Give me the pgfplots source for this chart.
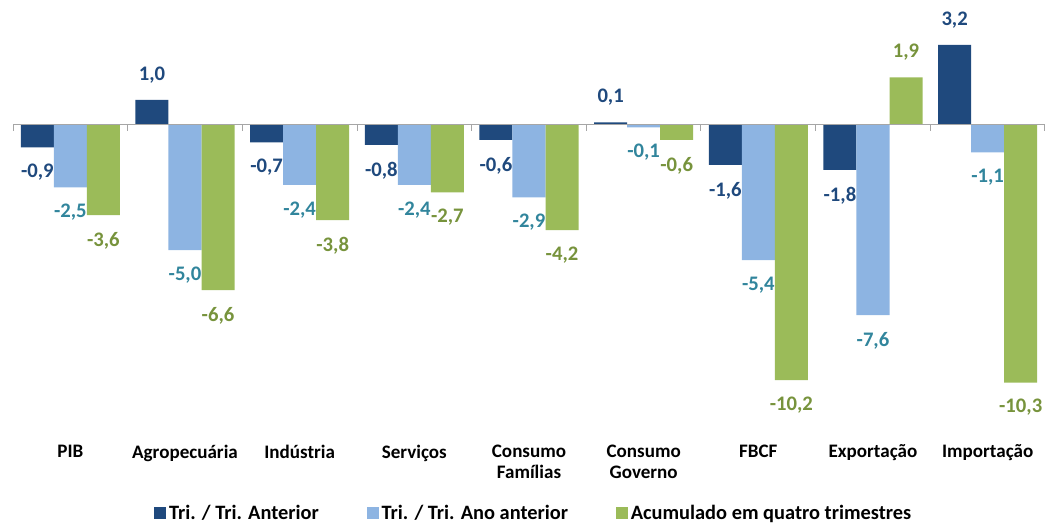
\documentclass[border=0pt]{standalone}
\usepackage{fontspec}
\setmainfont{Carlito}
\usepackage{pgfplots}
\pgfplotsset{compat=1.18}
\definecolor{cA}{HTML}{1F497D}
\definecolor{cB}{HTML}{8DB4E2}
\definecolor{cC}{HTML}{9BBB59}
\definecolor{lA}{HTML}{1F497D}
\definecolor{lB}{HTML}{31859C}
\definecolor{lC}{HTML}{77933C}
\begin{document}
\begin{tikzpicture}
\path[use as bounding box] (0,0) rectangle (783.75pt,393.75pt);
\begin{axis}[
  at={(9.75pt,63.75pt)}, anchor=south west,
  scale only axis, width=774pt, height=322.5pt,
  xmin=-0.5, xmax=8.5, ymin=-12.6, ymax=4.6,
  ybar=0pt, bar width=0.288,
  axis x line*=bottom, axis y line=none,
  x axis line style={draw=none},
  major tick length=0pt,
  ytick=\empty,
  xtick={0,1,2,3,4,5,6,7,8},
  xticklabels={PIB, Agropecuária, Indústria, Serviços, {Consumo\\Famílias}, {Consumo\\Governo}, FBCF, Exportação, Importação},
  xticklabel style={align=center, anchor=north, font=\bfseries\fontsize{14.3}{16.2}\selectfont, text=black},
  nodes near coords,
  nodes near coords style={font=\bfseries\fontsize{15.5}{17}\selectfont, inner ysep=12.5pt,
    /pgf/number format/use comma, /pgf/number format/fixed, /pgf/number format/fixed zerofill,
    /pgf/number format/precision=1, /pgf/number format/assume math mode=true},
  legend style={draw=none, at={(0.505,-0.170)}, anchor=center, legend columns=3,
    font=\bfseries\fontsize{15.3}{17}\selectfont, nodes={inner xsep=2pt},
    /tikz/every even column/.append style={column sep=34pt}},
  legend image code/.code={\fill[#1] (0pt,-4.5pt) rectangle (9pt,4.5pt);},
  clip=false,
]
\addplot[fill=cA, draw=none, every node near coord/.append style={text=lA}] coordinates
 {(0,-0.9) (1,1.0) (2,-0.7) (3,-0.8) (4,-0.6) (5,0.1) (6,-1.6) (7,-1.8) (8,3.2)};
\addplot[fill=cB, draw=none, every node near coord/.append style={text=lB}] coordinates
 {(0,-2.5) (1,-5.0) (2,-2.4) (3,-2.4) (4,-2.9) (5,-0.1) (6,-5.4) (7,-7.6) (8,-1.1)};
\addplot[fill=cC, draw=none, every node near coord/.append style={text=lC}] coordinates
 {(0,-3.6) (1,-6.6) (2,-3.8) (3,-2.7) (4,-4.2) (5,-0.6) (6,-10.2) (7,1.9) (8,-10.3)};
\legend{Tri. / Tri. Anterior, Tri. / Tri. Ano anterior, Acumulado em quatro trimestres}
\draw[color=gray!70, line width=0.75pt] (axis cs:-0.5,0) -- (axis cs:8.5,0);
\draw[color=gray!70, line width=0.75pt]
 (axis cs:-0.5,0) -- ++(0pt,-4.5pt) (axis cs:0.5,0) -- ++(0pt,-4.5pt)
 (axis cs:1.5,0) -- ++(0pt,-4.5pt) (axis cs:2.5,0) -- ++(0pt,-4.5pt)
 (axis cs:3.5,0) -- ++(0pt,-4.5pt) (axis cs:4.5,0) -- ++(0pt,-4.5pt)
 (axis cs:5.5,0) -- ++(0pt,-4.5pt) (axis cs:6.5,0) -- ++(0pt,-4.5pt)
 (axis cs:7.5,0) -- ++(0pt,-4.5pt) (axis cs:8.5,0) -- ++(0pt,-4.5pt);
\end{axis}
\end{tikzpicture}
\end{document}
